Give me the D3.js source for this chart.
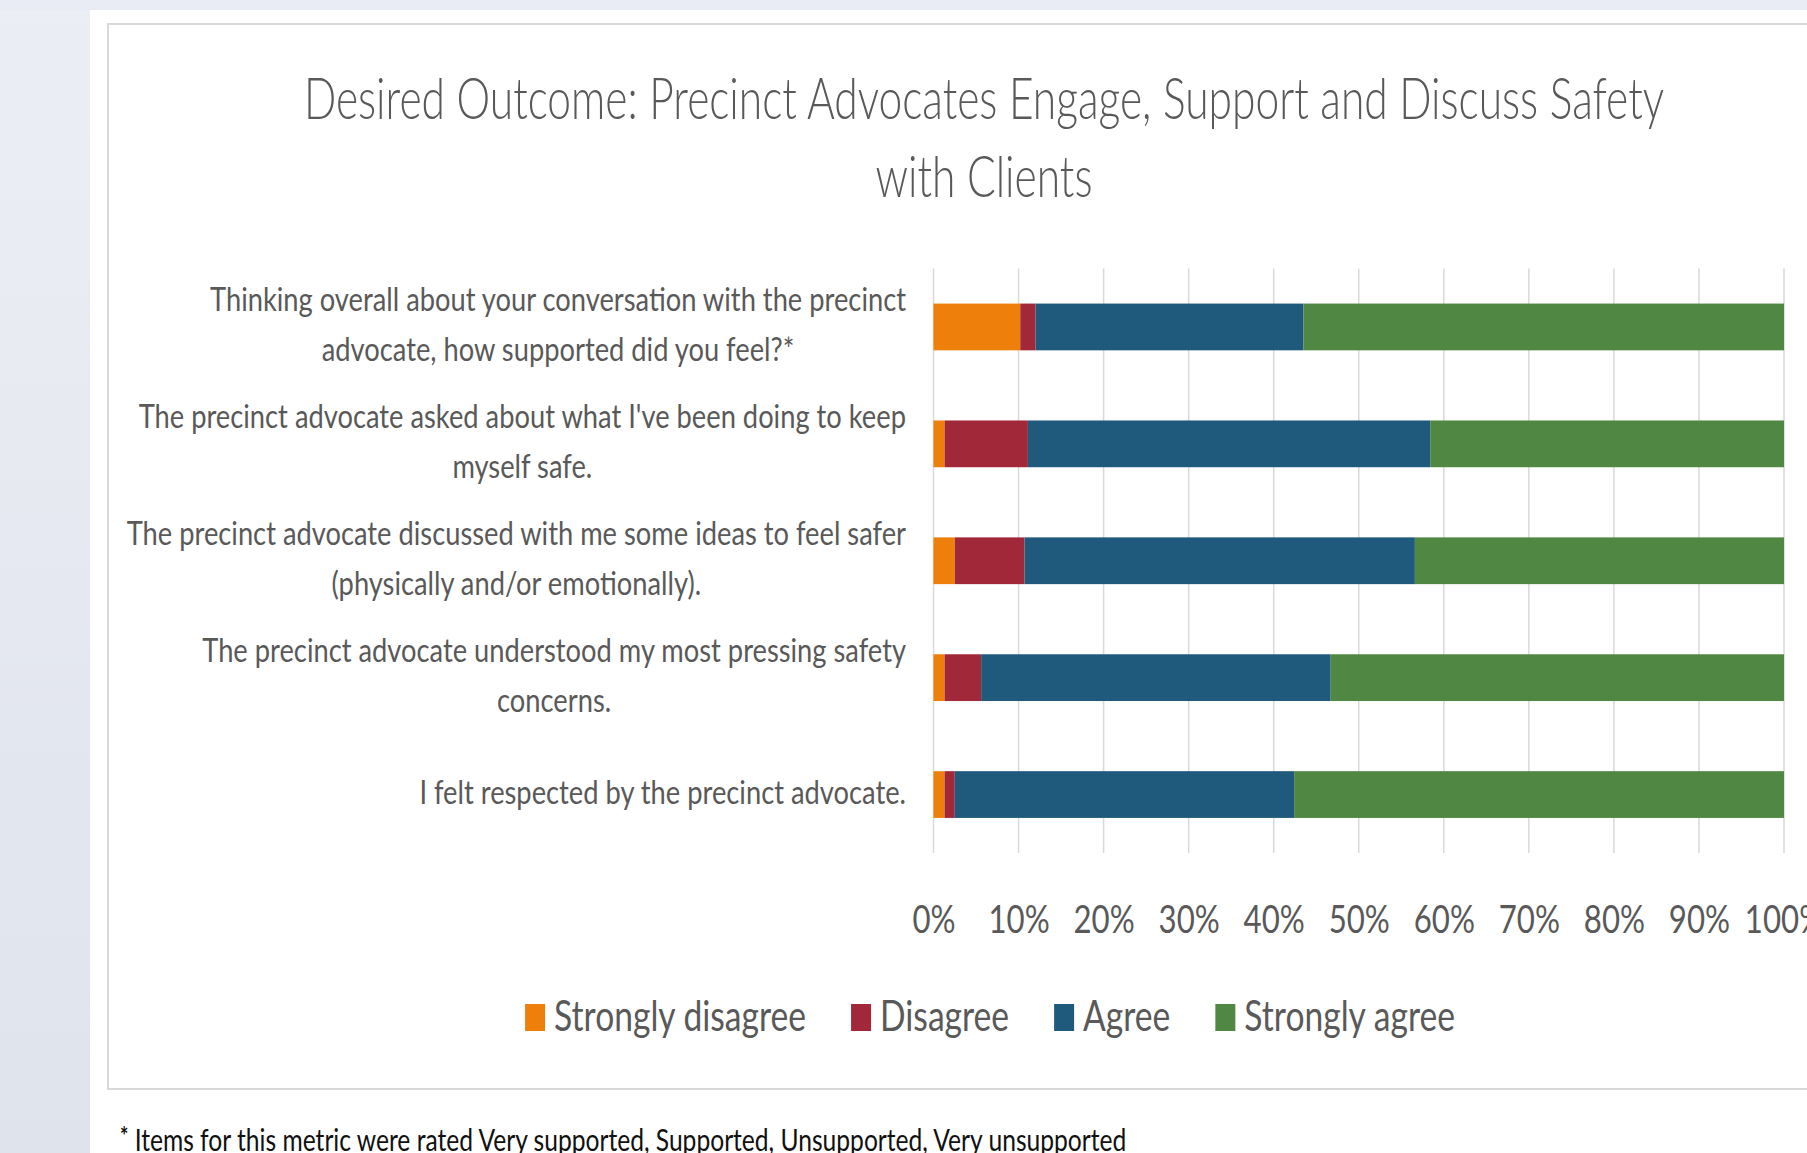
<!DOCTYPE html>
<html>
<head>
<meta charset="utf-8">
<script src="https://cdn.jsdelivr.net/npm/d3@7"></script>
<style>
  html, body { margin: 0; padding: 0; background: #ffffff; }
  svg { display: block; }
  text { font-family: Lato, "Open Sans", "Liberation Sans", sans-serif; }
</style>
</head>
<body>
<svg id="chart" width="1807" height="1153"></svg>
<script>
// Survey items (each entry holds the wrapped lines of one question)
const categories = [
  ["Thinking overall about your conversation with the precinct", "advocate, how supported did you feel?*"],
  ["The precinct advocate asked about what I've been doing to keep", "myself safe."],
  ["The precinct advocate discussed with me some ideas to feel safer", "(physically and/or emotionally)."],
  ["The precinct advocate understood my most pressing safety", "concerns."],
  ["I felt respected by the precinct advocate."]
];

const seriesNames = ["Strongly disagree", "Disagree", "Agree", "Strongly agree"];

// Share of responses (%) per item
const stronglyDisagree = [10.2, 1.3, 2.5, 1.3, 1.3];
const disagree         = [1.8, 9.8, 8.2, 4.3, 1.2];
const agree            = [31.5, 47.3, 45.9, 41.1, 39.9];
const stronglyAgree    = [56.5, 41.6, 43.4, 53.3, 57.6];

const tickValues = [0, 10, 20, 30, 40, 50, 60, 70, 80, 90, 100];
const tickLabels = ["0%", "10%", "20%", "30%", "40%", "50%", "60%", "70%", "80%", "90%", "100%"];

const titleLines = ["Desired Outcome: Precinct Advocates Engage, Support and Discuss Safety", "with Clients"];
const footnote = "Items for this metric were rated Very supported, Supported, Unsupported, Very unsupported";

const seriesColors = ["#EF7F0B", "#A02839", "#1F5A7C", "#508742"];
const textGrey = "#595959";

// Build a row table for the stack layout
const rows = categories.map((lines, i) => ({
  key: i,
  "Strongly disagree": stronglyDisagree[i],
  "Disagree": disagree[i],
  "Agree": agree[i],
  "Strongly agree": stronglyAgree[i]
}));

const svg = d3.select("#chart");

// Narrow the set type horizontally, like the condensed face used in the original deck
function squeeze(sel, k) {
  sel.each(function () {
    const w = this.getComputedTextLength();
    if (w > 0) {
      this.setAttribute("textLength", (w * k).toFixed(2));
      this.setAttribute("lengthAdjust", "spacingAndGlyphs");
    }
  });
}

function draw() {
  // Page backdrop
  const defs = svg.append("defs");
  const grad = defs.append("linearGradient").attr("id", "bg").attr("x1", 0).attr("y1", 0).attr("x2", 0).attr("y2", 1);
  grad.append("stop").attr("offset", "0%").attr("stop-color", "#eceef5");
  grad.append("stop").attr("offset", "100%").attr("stop-color", "#dfe3ec");
  svg.append("rect").attr("x", 0).attr("y", 0).attr("width", 1807).attr("height", 1153).attr("fill", "url(#bg)");
  svg.append("rect").attr("x", 0).attr("y", 0).attr("width", 1807).attr("height", 10).attr("fill", "#e9ecf5");
  svg.append("rect").attr("x", 90).attr("y", 10).attr("width", 1717).attr("height", 1143).attr("fill", "#ffffff");

  // Chart frame (runs off the right edge)
  svg.append("rect")
    .attr("x", 108).attr("y", 24).attr("width", 1760).attr("height", 1065)
    .attr("fill", "#ffffff").attr("stroke", "#d9d9d9").attr("stroke-width", 2);

  // Scales
  const x = d3.scaleLinear().domain([0, 100]).range([933.5, 1784]);
  const y = d3.scaleBand().domain(d3.range(categories.length)).range([268.5, 853])
    .paddingInner(0.6).paddingOuter(0.3);

  // Gridlines
  const gridTop = 268.5, gridBottom = 853;
  svg.append("g").selectAll("line").data(tickValues).join("line")
    .attr("x1", d => x(d)).attr("x2", d => x(d))
    .attr("y1", gridTop).attr("y2", gridBottom)
    .attr("stroke", "#d9d9d9").attr("stroke-width", 1.5);

  // Stacked bars
  const stack = d3.stack().keys(seriesNames)(rows);
  const layers = svg.append("g").selectAll("g").data(stack).join("g")
    .attr("fill", (d, i) => seriesColors[i]);
  layers.selectAll("rect").data(d => d).join("rect")
    .attr("x", d => x(d[0]))
    .attr("width", d => x(d[1]) - x(d[0]))
    .attr("y", d => y(d.data.key))
    .attr("height", y.bandwidth());

  // X axis labels
  const xAxis = d3.axisBottom(x).tickValues(tickValues)
    .tickFormat((d, i) => tickLabels[i]).tickSize(0).tickPadding(0);
  const ax = svg.append("g").attr("transform", "translate(0,933)").call(xAxis);
  ax.select(".domain").remove();
  ax.selectAll("text")
    .attr("dy", 0).attr("y", 0)
    .attr("fill", textGrey).attr("font-size", 39)
    .style("font-family", 'Lato, "Open Sans", sans-serif');
  squeeze(ax.selectAll("text"), 0.8);

  // Category labels: block right-aligned to the plot, lines centred within it
  const labelSize = 32, pitch = 50, labelRight = 906;
  categories.forEach((lines, i) => {
    const g = svg.append("g");
    const cy = y(i) + y.bandwidth() / 2 - 2;
    const t = g.selectAll("text").data(lines).join("text")
      .attr("font-size", labelSize).attr("fill", textGrey)
      .attr("text-anchor", "middle")
      .attr("y", (d, j) => cy + (j - (lines.length - 1) / 2) * pitch + labelSize * 0.36)
      .text(d => d);
    squeeze(t, 0.853);
    let blockW = 0;
    t.each(function () { blockW = Math.max(blockW, +this.getAttribute("textLength")); });
    t.attr("x", labelRight - blockW / 2);
  });

  // Title
  const title = svg.append("g").selectAll("text").data(titleLines).join("text")
    .attr("x", 984).attr("y", (d, i) => 119 + i * 78)
    .attr("text-anchor", "middle").attr("font-size", 58).attr("font-weight", 300)
    .attr("fill", textGrey).text(d => d);
  squeeze(title, 0.733);

  // Legend
  const legend = svg.append("g");
  let cursor = 0;
  seriesNames.forEach((name, i) => {
    const g = legend.append("g");
    g.append("rect").attr("x", cursor).attr("y", 1004).attr("width", 20).attr("height", 27)
      .attr("fill", seriesColors[i]);
    const t = g.append("text").attr("x", cursor + 29).attr("y", 1031)
      .attr("font-size", 42).attr("fill", textGrey).text(name);
    squeeze(t, 0.8);
    cursor += 29 + (+t.attr("textLength")) + 45;
  });
  const legendW = cursor - 45;
  legend.attr("transform", `translate(${990 - legendW / 2},0)`);

  // Footnote under the frame
  const fn = svg.append("text").attr("x", 120).attr("y", 1151)
    .attr("font-size", 30).attr("fill", "#111111");
  fn.append("tspan").attr("font-size", 24).attr("font-weight", 700).attr("dy", -6).text("*");
  fn.append("tspan").attr("dy", 6).text(" " + footnote);
  squeeze(fn, 0.82);
}

if (document.fonts && document.fonts.ready) {
  document.fonts.ready.then(draw);
} else {
  draw();
}
</script>
</body>
</html>
